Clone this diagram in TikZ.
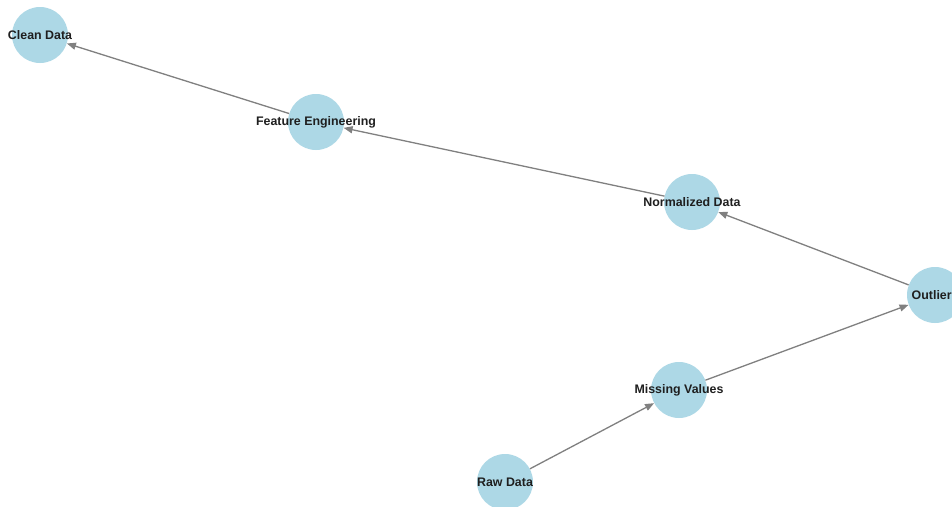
\documentclass[tikz,border=0pt]{standalone}
\usepackage{fontspec}
\setmainfont{Liberation Sans}
\usepackage{tikz}
\usetikzlibrary{arrows.meta}
\usetikzlibrary{calc}
\definecolor{stageblue}{HTML}{ADD8E6}
\definecolor{flowgray}{HTML}{808080}
\tikzset{
	stage/.style={circle, fill=stageblue, minimum size=56pt, inner sep=0pt},
	stagetext/.style={inner sep=0pt, font=\fontsize{12.4}{14}\selectfont\bfseries, text=black!88},
	flow/.style={->, draw=flowgray, line width=1.3pt},
}

\begin{document}
\begin{tikzpicture}[>={Triangle[length=9pt,width=7pt]}, x=1pt, y=-1pt]
		%frame
		\useasboundingbox (0,0) rectangle (952,506);
		\clip (0,0) rectangle (952,506);
		\fill[white] (0,0) rectangle (952,506);

		%coordinates
		\coordinate (Pclean) at (40,35);
		\coordinate (Pfeat)  at (316,122);
		\coordinate (Pnorm)  at (692,202);
		\coordinate (Poutl)  at (935,295);
		\coordinate (Pmiss)  at (679,390);
		\coordinate (Praw)   at (505,482);

		%nodes
		\node[stage] (clean) at (Pclean) {};
		\node[stage] (feat)  at (Pfeat)  {};
		\node[stage] (norm)  at (Pnorm)  {};
		\node[stage] (outl)  at (Poutl)  {};
		\node[stage] (miss)  at (Pmiss)  {};
		\node[stage] (raw)   at (Praw)   {};

		\node[stagetext] (cleantxt) at (clean) {Clean Data};
		\node[stagetext] (feattxt)  at (feat)  {Feature Engineering};
		\node[stagetext] (normtxt)  at (norm)  {Normalized Data};
		\node[stagetext, anchor=west] (outltxt) at ($(outl.center)+(-23.5,0)$) {Outlier};
		\node[stagetext] (misstxt)  at (miss)  {Missing Values};
		\node[stagetext] (rawtxt)   at (raw)   {Raw Data};

		%edges
		\draw[flow] (raw) -- (miss);
		\draw[flow] (miss) -- (outl);
		\draw[flow] (outl) -- (norm);
		\draw[flow] (norm) -- (feat);
		\draw[flow] (feat) -- (clean);
\end{tikzpicture}
\end{document}
